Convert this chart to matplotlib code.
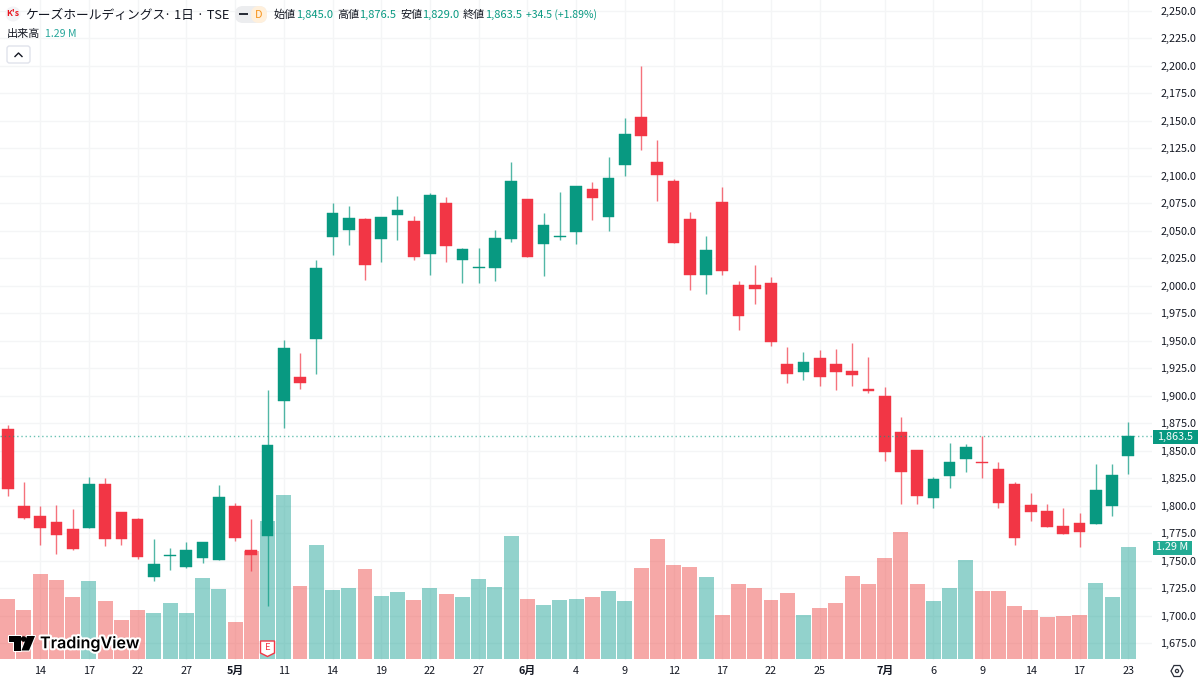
import matplotlib
matplotlib.use("Agg")
import matplotlib.pyplot as plt
import matplotlib.patheffects as pe
from matplotlib.patches import Circle, FancyBboxPatch, Polygon, Rectangle

plt.rcParams["font.family"] = ["Noto Sans CJK JP", "DejaVu Sans"]

UP = "#089981"
DOWN = "#F23645"
VOL_UP = "#26A69A"
VOL_DOWN = "#EF5350"
INK = "#131722"
GRID = "#F4F5F6"

opens = [1869.5, 1800.1, 1790.4, 1785.3, 1778.6, 1779.8, 1819.8, 1794.4, 1787.7, 1735.6,
         1754.0, 1744.7, 1752.9, 1750.7, 1799.5, 1759.8, 1772.9, 1895.6, 1917.4, 1952.0,
         2044.7, 2050.4, 2060.4, 2042.9, 2064.0, 2059.0, 2028.9, 2075.3, 2023.6, 2016.0,
         2016.2, 2042.9, 2079.2, 2038.0, 2044.5, 2048.9, 2088.0, 2062.6, 2110.2, 2153.5,
         2112.9, 2095.6, 2060.5, 2009.5, 2076.2, 2000.8, 2001.0, 2002.6, 1929.3, 1921.4,
         1934.4, 1929.3, 1922.6, 1905.8, 1900.2, 1866.9, 1851.1, 1807.5, 1827.5, 1842.6,
         1839.8, 1833.2, 1819.6, 1800.8, 1795.0, 1781.4, 1784.4, 1783.5, 1799.9, 1845.0]
highs = [1873.5, 1822.0, 1799.8, 1800.4, 1796.8, 1826.5, 1825.0, 1794.4, 1789.2, 1769.5,
         1761.3, 1767.4, 1767.4, 1818.9, 1802.3, 1787.7, 1905.3, 1950.7, 1938.9, 2023.5,
         2075.0, 2072.6, 2061.7, 2062.9, 2081.7, 2063.5, 2084.0, 2080.4, 2034.4, 2034.7,
         2050.8, 2112.9, 2079.2, 2066.5, 2085.3, 2091.0, 2094.4, 2117.4, 2152.3, 2200.1,
         2132.3, 2097.1, 2067.1, 2045.6, 2089.8, 2004.0, 2018.9, 2007.7, 1944.1, 1939.9,
         1941.7, 1942.3, 1948.1, 1935.3, 1907.8, 1880.8, 1851.1, 1826.6, 1857.2, 1856.3,
         1863.5, 1839.6, 1822.0, 1811.4, 1801.7, 1798.1, 1793.5, 1837.8, 1838.4, 1876.5]
lows = [1808.9, 1787.7, 1764.7, 1755.9, 1759.8, 1779.8, 1763.2, 1764.7, 1751.3, 1732.0,
        1741.6, 1743.8, 1748.3, 1750.7, 1767.7, 1740.7, 1708.9, 1870.4, 1905.9, 1920.1,
        2028.0, 2037.1, 2005.6, 2022.0, 2041.7, 2023.5, 2010.1, 2022.0, 2002.9, 2002.6,
        2004.7, 2040.1, 2026.5, 2008.6, 2041.7, 2037.7, 2059.8, 2049.5, 2099.5, 2123.5,
        2077.4, 2039.2, 1995.9, 1992.9, 2010.2, 1960.2, 1983.8, 1945.3, 1911.7, 1914.7,
        1909.0, 1905.6, 1909.0, 1902.9, 1841.1, 1802.0, 1802.0, 1798.4, 1816.3, 1831.1,
        1825.3, 1798.4, 1764.7, 1786.6, 1780.5, 1774.7, 1762.3, 1783.5, 1791.1, 1829.0]
closes = [1815.0, 1788.6, 1779.8, 1773.2, 1761.0, 1819.8, 1770.1, 1770.1, 1753.8, 1747.1,
          1754.9, 1759.8, 1767.4, 1808.3, 1770.7, 1755.0, 1855.3, 1943.5, 1912.0, 2015.9,
          2065.9, 2061.4, 2019.2, 2062.9, 2068.9, 2026.5, 2082.3, 2036.5, 2033.8, 2017.0,
          2043.5, 2095.6, 2026.5, 2055.3, 2045.5, 2091.0, 2079.5, 2097.7, 2138.0, 2136.2,
          2101.0, 2039.2, 2009.5, 2032.3, 2013.2, 1972.9, 1997.4, 1949.0, 1919.9, 1930.8,
          1917.2, 1922.0, 1919.3, 1904.6, 1849.3, 1830.5, 1809.0, 1824.7, 1839.6, 1853.8,
          1838.8, 1802.9, 1770.8, 1794.7, 1780.5, 1774.7, 1775.9, 1814.1, 1828.4, 1863.5]
volumes = [0.70, 0.565, 0.98, 0.914, 0.714, 0.902, 0.668, 0.449, 0.565, 0.534,
           0.649, 0.534, 0.941, 0.81, 0.43, 1.252, 1.59, 1.893, 0.845, 1.317,
           0.799, 0.826, 1.037, 0.733, 0.77, 0.684, 0.818, 0.753, 0.714, 0.929,
           0.837, 1.421, 0.691, 0.626, 0.684, 0.691, 0.722, 0.787, 0.668, 1.052,
           1.382, 1.091, 1.06, 0.948, 0.515, 0.868, 0.826, 0.684, 0.76, 0.515,
           0.591, 0.645, 0.96, 0.864, 1.167, 1.471, 0.864, 0.668, 0.818, 1.148,
           0.787, 0.787, 0.618, 0.564, 0.488, 0.495, 0.515, 0.883, 0.714, 1.29]

date_ticks = [2, 5, 8, 11, 14, 17, 20, 23, 26, 29, 32, 35, 38, 41, 44, 47, 50, 54, 57, 60, 63, 66, 69]
date_labels = ["14", "17", "22", "27", "5月", "11", "14", "19", "22", "27", "6月", "4", "9",
               "12", "17", "22", "25", "7月", "6", "9", "14", "17", "23"]
price_ticks = list(range(1675, 2275, 25))

days = list(range(len(closes)))
is_up = [c >= o for o, c in zip(opens, closes)]

fig = plt.figure(figsize=(12, 6.81), dpi=100, facecolor="white")
pos = [0, 21 / 681, 1152 / 1200, 660 / 681]

# grid and axis labels at the back, then volume, then candles
ax = fig.add_axes(pos, zorder=1)
ax.set_xlim(-0.474, 70.46)
ax.set_ylim(1659.9, 2259.86)
ax.set_xticks(date_ticks, date_labels)
ax.set_yticks(price_ticks, [f"{p:,.1f}" for p in price_ticks])
ax.yaxis.tick_right()
ax.tick_params(axis="x", length=0, pad=4, labelsize=7.8, labelcolor=INK)
ax.tick_params(axis="y", length=0, pad=6, labelsize=7.8, labelcolor=INK)
for lab in ax.get_xticklabels():
    if "月" in lab.get_text():
        lab.set_fontweight("bold")
ax.grid(True, color=GRID, lw=1)
ax.set_axisbelow(True)
for s in ax.spines.values():
    s.set_visible(False)

vol_ax = fig.add_axes(pos, zorder=2, sharex=ax, facecolor="none")
vol_ax.set_ylim(-0.008, 7.595)
vol_ax.bar(days, volumes, width=0.92,
           color=[VOL_UP if u else VOL_DOWN for u in is_up], alpha=0.5, lw=0)
vol_ax.axis("off")

candle_ax = fig.add_axes(pos, zorder=3, sharex=ax, sharey=ax, facecolor="none")
bar_colors = [UP if u else DOWN for u in is_up]
candle_ax.vlines(days, lows, highs, colors=bar_colors, lw=1.0, alpha=0.7)
candle_ax.bar(days, [abs(c - o) for o, c in zip(opens, closes)],
              bottom=[min(o, c) for o, c in zip(opens, closes)],
              width=0.72, color=bar_colors, edgecolor=bar_colors, lw=0.3)
candle_ax.axhline(closes[-1], color=UP, lw=1, ls=(0, (1, 2)), alpha=0.6)
candle_ax.axis("off")

# header, badges and logo are laid out in pixels on a full-size overlay
top = fig.add_axes([0, 0, 1, 1], zorder=4, facecolor="none")
top.set_xlim(0, 1200)
top.set_ylim(681, 0)
top.axis("off")

top.add_patch(Circle((13, 14), 7.5, fc="#F3F3F6", ec="none"))
top.text(13, 14, "K's", color="#E8141E", fontsize=6.2, fontweight="bold", ha="center", va="center")
top.text(25, 15, "ケーズホールディングス", color=INK, fontsize=9.2, va="center")
top.text(164, 15, "· 1日 · TSE", color=INK, fontsize=9.2, va="center")

top.add_patch(FancyBboxPatch((235, 6), 32, 17, boxstyle="round,pad=0,rounding_size=8",
                             fc="#ECEDEF", ec="none"))
top.add_patch(FancyBboxPatch((251, 6), 16, 17, boxstyle="round,pad=0,rounding_size=8",
                             fc="#FFF0DC", ec="none"))
top.add_patch(Rectangle((239, 13), 8.5, 2.4, fc="#2A2E39", ec="none"))
top.text(258.7, 14.5, "D", color="#F7931A", fontsize=7.8, ha="center", va="center")

ohlc = [("始値", 274), ("高値", 337), ("安値", 400), ("終値", 463)]
ohlc_vals = [(f"{opens[-1]:,.1f}", 296.5), (f"{highs[-1]:,.1f}", 359.5),
             (f"{lows[-1]:,.1f}", 422.5), (f"{closes[-1]:,.1f}", 485)]
for name, x in ohlc:
    top.text(x, 15, name, color=INK, fontsize=8, va="center")
for val, x in ohlc_vals:
    top.text(x, 15, val, color=UP, fontsize=8, va="center")
top.text(525.5, 15, "+34.5 (+1.89%)", color=UP, fontsize=7.5, va="center")

top.text(7, 34, "出来高", color=INK, fontsize=8, va="center")
top.text(45, 34, "1.29 M", color=VOL_UP, fontsize=7.6, va="center")

top.add_patch(FancyBboxPatch((7, 46), 23, 17, boxstyle="round,pad=0,rounding_size=2.5",
                             fc="white", ec="#E0E3EB", lw=1))
top.plot([15, 18.5, 22], [56.5, 53, 56.5], color=INK, lw=1.0)

# last price and last volume badges on the price scale
top.add_patch(Rectangle((1153, 430), 45, 13.5, fc=UP, ec="none"))
top.text(1175.5, 436.5, f"{closes[-1]:,.1f}", color="white", fontsize=7.8, ha="center", va="center")
top.add_patch(Rectangle((1153, 541), 39, 14, fc="#22AB94", ec="none"))
top.text(1172.5, 547.5, "1.29 M", color="white", fontsize=7.8, ha="center", va="center")

# earnings marker
top.add_patch(Polygon([(260.5, 641), (274.5, 641), (274.5, 653), (267.5, 656.5), (260.5, 653)],
                      fc="white", ec=DOWN, lw=1))
top.text(267.5, 648, "E", color=DOWN, fontsize=6.8, ha="center", va="center")

# settings icon
top.add_patch(Polygon([(1171, 671), (1174, 665.5), (1180, 665.5), (1183, 671), (1180, 676.5), (1174, 676.5)],
                      fc="none", ec="#2A2E39", lw=0.9))
top.add_patch(Circle((1177, 671), 1.6, fc="none", ec="#2A2E39", lw=0.9))

# TradingView mark
halo = [pe.withStroke(linewidth=3, foreground="white")]
logo = [[(8.5, 636), (21, 636), (21, 650.5), (14, 650.5), (14, 642), (8.5, 642)],
        [(27, 636), (35, 636), (29, 650.5), (21.5, 650.5)]]
for shape in logo:
    top.add_patch(Polygon(shape, fc="black", ec="white", lw=1.5, joinstyle="round", zorder=2))
    top.add_patch(Polygon(shape, fc="black", ec="none", zorder=3))
top.add_patch(Circle((23.6, 639), 2.8, fc="black", ec="none", zorder=3))
top.text(40, 643.5, "TradingView", color="black", fontsize=11.6, fontweight=600,
         family="Inter", va="center", path_effects=halo, zorder=4)

fig.savefig("out.png", dpi=100)
